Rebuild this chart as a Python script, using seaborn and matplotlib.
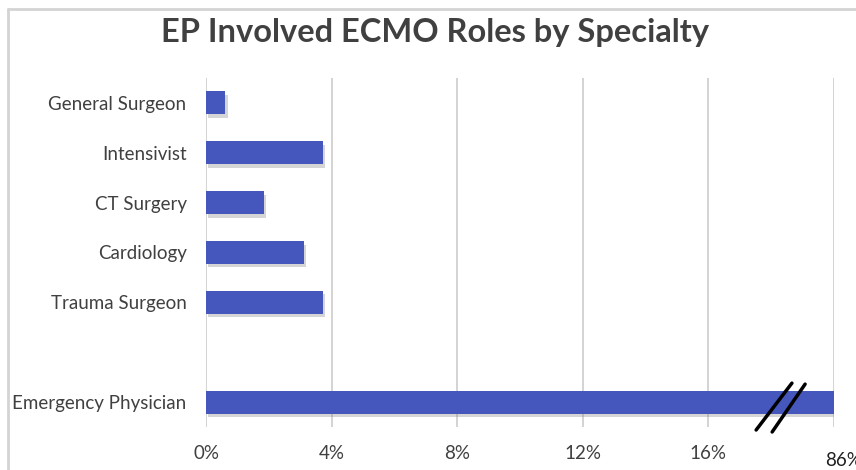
import matplotlib.pyplot as plt
import matplotlib.patheffects as pe
import pandas as pd
import seaborn as sns
from matplotlib.lines import Line2D

# Data (share of respondents, %)
specialties = ["General Surgeon", "Intensivist", "CT Surgery", "Cardiology",
               "Trauma Surgeon", "", "Emergency Physician"]
shares = [0.62, 3.73, 1.86, 3.11, 3.73, None, 86.3]
axis_cap = 20  # broken axis: the last tick stands for the real max
tick_vals = [0, 4, 8, 12, 16, 20]
tick_labels = ["0%", "4%", "8%", "12%", "16%", ""]
break_label = "86%"

df = pd.DataFrame({"specialty": specialties, "share": shares})
df["shown"] = df["share"].clip(upper=axis_cap)

sns.set_theme(style="white")
plt.rcParams["font.family"] = ["Lato", "DejaVu Sans"]

fig = plt.figure(figsize=(8.56, 4.70), dpi=100)
ax = fig.add_axes([206 / 856, 1 - 427 / 470, 628 / 856, 349 / 470])

sns.barplot(data=df, y="specialty", x="shown", orient="h", color="#4556BC",
            saturation=1, width=0.46, linewidth=0, ax=ax, order=specialties)
for bar in ax.patches:
    if bar.get_width() > 0:
        bar.set_path_effects([pe.SimplePatchShadow(offset=(1.5, -2.5),
                                                   shadow_rgbFace="#888888",
                                                   alpha=0.35),
                              pe.Normal()])

ax.set_xlim(0, axis_cap)
ax.set_ylim(len(specialties) - 0.5, -0.5)
ax.set_xticks(tick_vals)
ax.set_xticklabels(tick_labels)
ax.grid(axis="x", color="#d0d0d0", linewidth=1.3)
ax.set_axisbelow(True)
for s in ax.spines.values():
    s.set_visible(False)
ax.tick_params(axis="both", length=0, labelsize=13.5, labelcolor="#404040")
ax.tick_params(axis="x", pad=13)
ax.tick_params(axis="y", pad=14)
ax.set_xlabel("")
ax.set_ylabel("")

# label for the broken end of the axis
ax.text(axis_cap + 0.3, -0.097, break_label, transform=ax.get_xaxis_transform(),
        ha="center", va="center", fontsize=13.5, color="#202020", clip_on=False)

# break marks
ax.add_line(Line2D([17.52, 18.66], [6.56, 5.62], color="black",
                   linewidth=2.5, clip_on=False, zorder=5))
ax.add_line(Line2D([18.03, 19.08], [6.6, 5.64], color="black",
                   linewidth=2.5, clip_on=False, zorder=5))

fig.suptitle("EP Involved ECMO Roles by Specialty", x=0.508, y=0.93,
             va="center", fontsize=23.5, fontweight="bold", color="#404040")

# chart frame
fig.add_artist(Line2D([8 / 856, 8 / 856], [0, 1 - 9 / 470], color="#d4d4d4",
                      linewidth=2, transform=fig.transFigure))
fig.add_artist(Line2D([8 / 856, 1], [1 - 9 / 470, 1 - 9 / 470], color="#d4d4d4",
                      linewidth=2, transform=fig.transFigure))

fig.savefig("out.png", dpi=100)
